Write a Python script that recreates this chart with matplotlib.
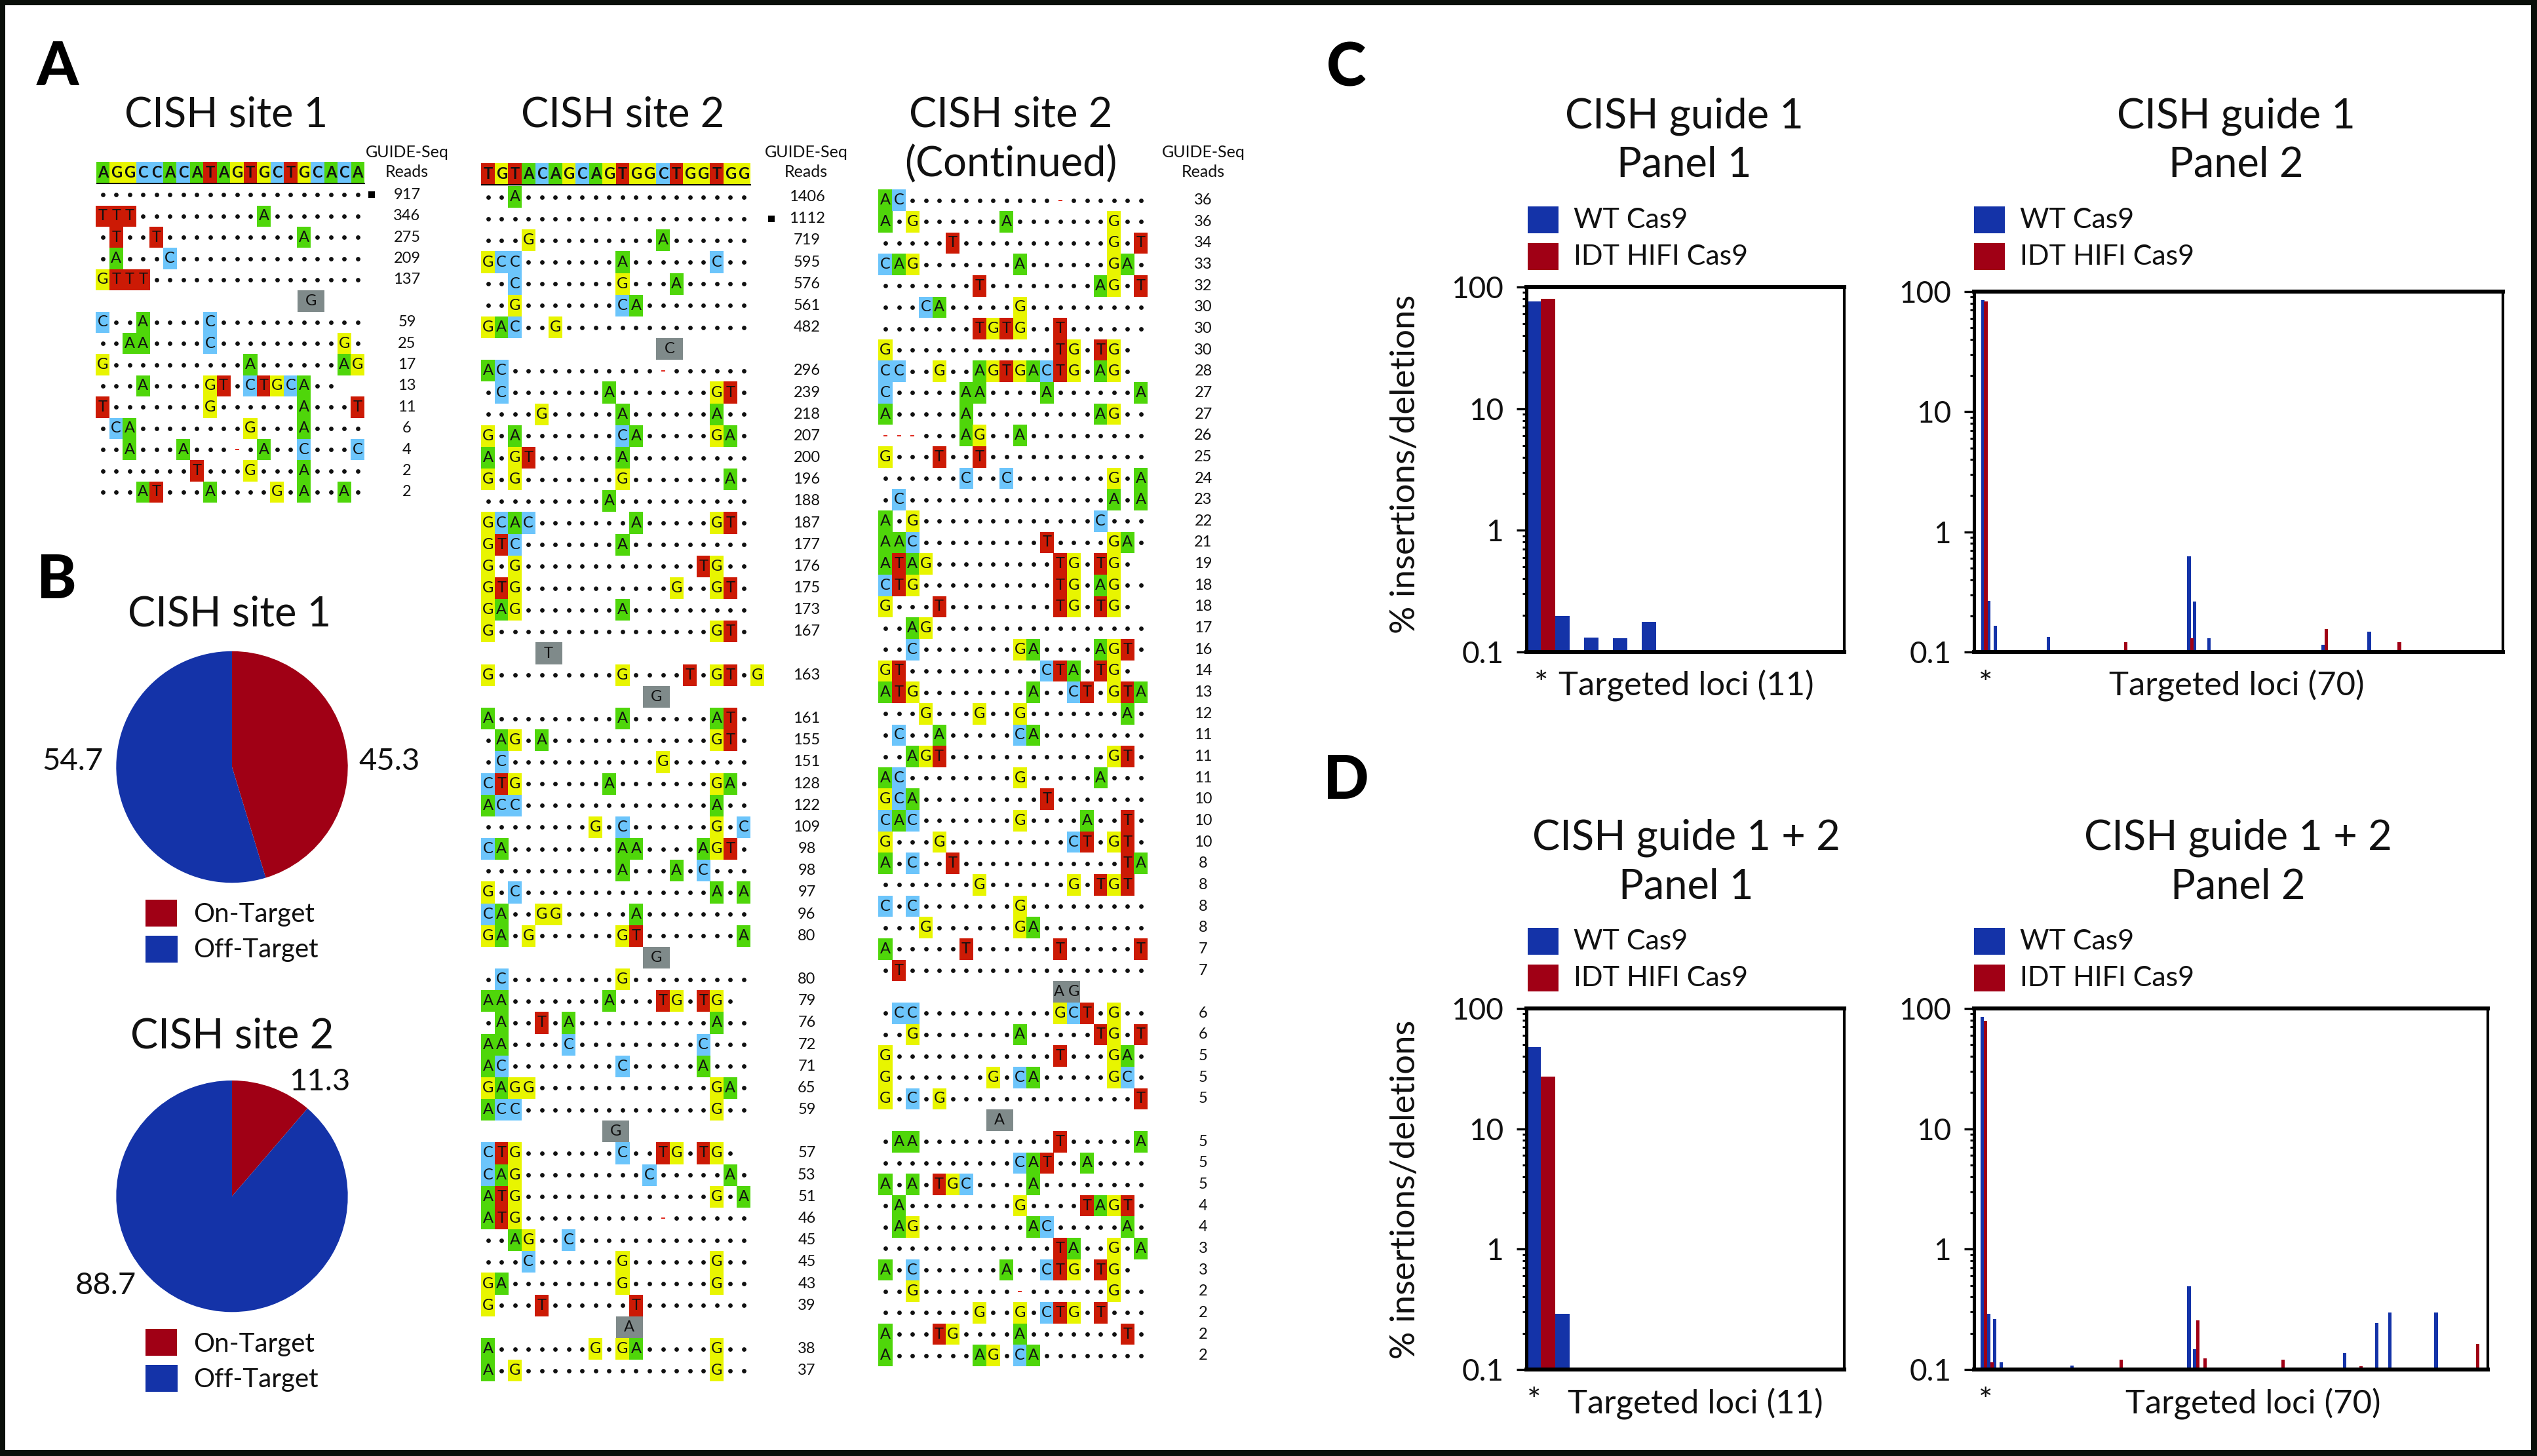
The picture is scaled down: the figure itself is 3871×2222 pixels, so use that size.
import matplotlib
matplotlib.use('Agg')
import matplotlib.pyplot as plt
from matplotlib.patches import Rectangle

W, H = 3871, 2222
FONT = 'Lato'
plt.rcParams['font.family'] = [FONT, 'DejaVu Sans']

# ---------- data ----------
site1_header = "AGGCCACATAGTGCTGCACA"
site1_rows = [
"....................",
"TTT.........A.......",
".T..T..........A....",
".A...C..............",
"GTTT................",
"",
"C..A....C...........",
"..AA....C.........G.",
"G..........A......AG",
"...A....GT.CTGCA..  ",
"T.......G......A...T",
".CA........G...A....",
"..A...A...-.A..C...C",
".......T...G...A....",
"...AT...A....G.A..A.",
]
site1_reads = [917,346,275,209,137,None,59,25,17,13,11,6,4,2,2]
site1_gaps = {5:(15,"G")}

site2_header = "TGTACAGCAGTGGCTGGTGG"
site2_rows = [
"..A.................",
"....................",
"...G.........A......",
"GCC.......A......C..",
"..C.......G...A.....",
"..G.......CA........",
"GAC..G..............",
"",
"AC...........-......",
".C.......A.......GT.",
"....G.....A......A..",
"G.A.......CA.....GA.",
"A.GT......A.........",
"G.G.......G.......A.",
".........A..........",
"GCAC.......A.....GT.",
"GTC.......A.........",
"G.G.............TG..",
"GTG...........G..GT.",
"GAG.......A.........",
"G................GT.",
"",
"G.........G....T.GT.G",
"",
"A.........A......AT.",
".AG.A............GT.",
".C...........G......",
"CTG......A.......GA.",
"ACC..............A..",
"........G.C......G.C",
"CA........AA....AGT.",
"..........A...A.C...",
"G.C..............A.A",
"CA..GG.....A........",
"GA.G......GT.......A",
"",
".C........G.........",
"AA.......A...TG.TG. ",
".A..T.A..........A..",
"AA....C.........C...",
"AC........C.....A...",
"GAGG.............GA.",
"ACC..............G..",
"",
"CTG.......C..TG.TG. ",
"CAG.........C.....A.",
"ATG..............G.A",
"ATG..........-......",
"..AG..C.............",
"...C......G......G..",
"GA........G......G..",
"G...T......T........",
"",
"A.......G.GA.....G..",
"A.G..............G..",
]
site2_reads = [1406,1112,719,595,576,561,482,None,296,239,218,207,200,196,188,187,177,176,175,173,167,None,
               163,None,161,155,151,128,122,109,98,98,97,96,80,None,80,79,76,72,71,65,59,None,
               57,53,51,46,45,45,43,39,None,38,37]
site2_gaps = {7:(13,"C"),21:(4,"T"),23:(12,"G"),35:(12,"G"),43:(9,"G"),52:(10,"A")}

site2c_rows = [
"AC...........-......",
"A.G......A.......G..",
".....T...........G.T",
"CAG.......A......GA.",
".......T........AG.T",
"...CA.....G.........",
".......TGTG..T......",
"G............TG.TG. ",
"CC..G..AGTGACTG.AG. ",
"C.....AA....A......A",
"A.....A.........AG..",
"---...AG..A.........",
"G...T..T............",
"......C..C.......G.A",
".C...............A.A",
"A.G.............C...",
"AAC.........T....GA.",
"ATAG.........TG.TG. ",
"CTG..........TG.AG..",
"G...T........TG.TG. ",
"..AG................",
"..C.......GA....AGT.",
"GT..........CTA.TG. ",
"ATG........A..CT.GTA",
"...G...G..G.......A.",
".C..A.....CA........",
"..AGT............GT.",
"AC........G.....A...",
"GCA.........T.......",
"CAC.......G....A..T.",
"G...G.........CT.GT.",
"A.C..T............TA",
".......G......G.TGT ",
"C.C.......G.........",
"...G......GA........",
"A.....T......T.....T",
".T..................",
"",
".CC..........GCT.G..",
"..G.......A.....TG.T",
"G............T...GA.",
"G.......G.CA.....GC.",
"G.C.G..............T",
"",
".AA..........T.....A",
"..........CAT..A....",
"A.A.TGC....A........",
".A........G....TAGT.",
".AG........AC.....A.",
".............TA..G.A",
"A.C......A..CTG.TG. ",
"..G.......-......G..",
".......G..G.CTG.T...",
"A...TG....A.......T.",
"A......AG.CA........",
]
site2c_reads = [36,36,34,33,32,30,30,30,28,27,27,26,25,24,23,22,21,19,18,18,17,16,14,13,12,11,11,11,10,10,10,
                8,8,8,8,7,7,None,6,6,5,5,5,None,5,5,5,4,4,3,3,2,2,2,2]
site2c_gaps = {37:(13,"A G"),43:(8,"A")}

pie_labels = ["On-Target", "Off-Target"]
pie_site1 = [45.3, 54.7]
pie_site2 = [11.3, 88.7]

series_names = ["WT Cas9", "IDT HIFI Cas9"]
c1_wt = [76, 0.197, 0.132, 0.129, 0.177]
c1_wt_loci = [0, 1, 2, 3, 4]
c1_hifi = [80]
c1_hifi_loci = [0]
d1_wt = [47.6, 0.291]
d1_wt_loci = [0, 1]
d1_hifi = [27]
d1_hifi_loci = [0]

c2_wt_pos = [1.16, 1.94, 2.81, 9.87, 28.46, 29.2, 31.07, 46.2, 52.3]
c2_wt = [85, 0.268, 0.165, 0.133, 0.622, 0.263, 0.131, 0.115, 0.148]
c2_hifi_pos = [1.55, 20.1, 28.85, 46.6, 56.3]
c2_hifi = [83, 0.121, 0.13, 0.156, 0.121]

d2_wt_pos = [1.10, 1.99, 2.79, 3.69, 13.35, 29.28, 30.08, 50.5, 54.88, 56.67, 62.95]
d2_wt = [85, 0.289, 0.262, 0.115, 0.108, 0.489, 0.147, 0.137, 0.245, 0.299, 0.299]
d2_hifi_pos = [1.59, 2.49, 20.02, 30.48, 31.47, 42.13, 52.69, 68.63]
d2_hifi = [79, 0.115, 0.12, 0.255, 0.123, 0.121, 0.106, 0.164]

y_ticks = [0.1, 1, 10, 100]
y_ticklabels = ["0.1", "1", "10", "100"]

# ---------- helpers ----------
RED, BLUE = '#a00015', '#1433a8'
CELL = {'A':'#4fd60a', 'G':'#e8f500', 'C':'#6cc5fb', 'T':'#cc1a05'}
GRAY = '#7f8a8a'

fig = plt.figure(figsize=(W/100, H/100), dpi=100, facecolor='white')

def axpx(l, t, r, b, **kw):
    return fig.add_axes([l/W, 1-b/H, (r-l)/W, (b-t)/H], **kw)

def T(x, y, s, size, ha='center', va='center', **kw):
    return fig.text(x/W, 1-y/H, s, fontsize=size, ha=ha, va=va, color=kw.pop('color', '#111111'), **kw)

def figrect(l, t, r, b, c):
    fig.add_artist(Rectangle((l/W, 1-b/H), (r-l)/W, (b-t)/H, transform=fig.transFigure, fc=c, ec='none'))

def alignment(x0, cw, y0, dy, rows, reads, gaps, header=None, hdr_row=-1.05, read_x=None, marker=None):
    n = len(rows)
    extent = 25
    ax = axpx(x0, y0-2*dy, x0+extent*cw, y0+n*dy)
    ax.set_xlim(0, extent)
    ax.set_ylim(n, -2)
    ax.axis('off')
    ls = 17
    for i, row in enumerate(rows):
        dx, dyy = [], []
        for j, ch in enumerate(row):
            if ch == '.':
                dx.append(j+0.5); dyy.append(i)
            elif ch == '-':
                ax.plot([j+0.5], [i], marker='_', ms=5, mew=1.4, color='#e0281c', clip_on=False)
            elif ch in CELL:
                ax.add_patch(Rectangle((j-0.015, i-0.5), 1.03, 1.0, fc=CELL[ch], ec='none', clip_on=False, zorder=1))
                ax.text(j+0.5, i, ch, fontsize=ls, ha='center', va='center', color='#111111', zorder=3)
        ax.scatter(dx, dyy, s=24, c='#111111', linewidths=0, zorder=3, clip_on=False)
        if reads[i] is not None:
            ax.text(read_x, i, str(reads[i]), fontsize=ls, ha='center', va='center', color='#111111')
    for r, (c, s) in gaps.items():
        ax.add_patch(Rectangle((c, r-0.5), 2, 1.0, fc=GRAY, ec='none', clip_on=False, zorder=1))
        ax.text(c+1, r, s, fontsize=ls, ha='center', va='center', color='#111111', zorder=3)
    if header:
        for j, ch in enumerate(header):
            ax.add_patch(Rectangle((j, hdr_row-0.5), 1.0, 1.0, fc=CELL[ch], ec='none', zorder=1))
            ax.text(j+0.5, hdr_row, ch, fontsize=ls, fontweight='bold', ha='center', va='center', color='#111111', zorder=3)
        ax.plot([0, 20], [hdr_row+0.5]*2, color='black', lw=1.5, zorder=4)
    if marker:
        ax.scatter([marker[0]], [marker[1]], s=50, marker='s', c='black', linewidths=0, clip_on=False)
    return ax

def pie(cx, cy, r, vals):
    ax = axpx(cx-r, cy-r, cx+r, cy+r)
    ax.pie(vals, colors=[RED, BLUE], startangle=90, counterclock=False, radius=1,
           wedgeprops=dict(linewidth=0))
    ax.set_xlim(-1, 1); ax.set_ylim(-1, 1)

def barpanel(l, t, r, b, nloci, wt_x, wt, hifi_x, hifi, width):
    ax = axpx(l, t, r, b)
    ax.set_yscale('log')
    ax.set_xlim(0, nloci)
    ax.set_ylim(0.1, 100)
    ax.bar(wt_x, [v-0.1 for v in wt], bottom=0.1, width=width, color=BLUE, align='center', zorder=2)
    ax.bar(hifi_x, [v-0.1 for v in hifi], bottom=0.1, width=width, color=RED, align='center', zorder=2)
    for s, lw in (('top',4.4),('bottom',4.4),('left',3.6),('right',3.0)):
        ax.spines[s].set_linewidth(lw); ax.spines[s].set_color('black'); ax.spines[s].set_zorder(5)
    ax.set_xticks([])
    ax.set_yticks(y_ticks); ax.set_yticklabels(y_ticklabels)
    ax.tick_params(axis='y', which='major', length=11, width=2.4, labelsize=33, pad=14, labelcolor='#111111')
    ax.tick_params(axis='y', which='minor', length=4, width=2.2, labelleft=False)
    ax.yaxis.set_minor_locator(matplotlib.ticker.LogLocator(base=10, subs=range(2, 10), numticks=10))
    ax.yaxis.set_minor_formatter(matplotlib.ticker.NullFormatter())
    return ax

# ---------- frame ----------
figrect(0, 0, W, 8, '#0a0f0a'); figrect(0, H-9, W, H, '#0a0f0a')
figrect(0, 0, 8, H, '#0a0f0a'); figrect(W-9, 0, W, H, '#0a0f0a')

# ---------- panel letters ----------
for s, x, y in (("A", 88, 104), ("B", 86, 887), ("C", 2054, 105), ("D", 2054, 1193)):
    T(x, y, s, 66, fontweight='black', color='black')

# ---------- panel A ----------
TS = 45.5
T(345, 176, "CISH site 1", TS)
T(950, 176, "CISH site 2", TS)
T(1542, 176, "CISH site 2", TS)
T(1542, 251, "(Continued)", TS)
for x in (621, 1230, 1836):
    T(x, 232, "GUIDE-Seq", 18)
    T(x, 262, "Reads", 18)

alignment(146.6, 20.47, 297.4, 32.4, site1_rows, site1_reads, site1_gaps, site1_header,
          read_x=(621-146.6)/20.47, marker=((567-146.6)/20.47, 0))
alignment(734.4, 20.53, 300.5, 33.17, site2_rows, site2_reads, site2_gaps, site2_header,
          read_x=(1231-734.4)/20.53, marker=((1176.5-734.4)/20.53, 1))
alignment(1340.8, 20.51, 305.6, 32.65, site2c_rows, site2c_reads, site2c_gaps,
          read_x=(1836-1340.8)/20.51)

# ---------- panel B ----------
T(350, 937, "CISH site 1", TS)
T(354, 1582, "CISH site 2", TS)
pie(354, 1170.5, 176.7, pie_site1)
pie(354, 1825.6, 176.7, pie_site2)
PS = 34
T(111, 1162, f"{pie_site1[1]}", PS)
T(594, 1162, f"{pie_site1[0]}", PS)
T(488, 1651, f"{pie_site2[0]}", PS)
T(161, 1962, f"{pie_site2[1]}", PS)
for y1, y2 in ((1373, 1428), (2028, 2083)):
    figrect(222, y1, 270, y1+41, RED)
    figrect(222, y2, 271, y2+41, BLUE)
    T(295.5, y1+23, pie_labels[0], 29, ha='left')
    T(295.5, y2+22, pie_labels[1], 29, ha='left')

# ---------- panels C, D ----------
wbar = 0.46
a = barpanel(2329, 438, 2814, 995, 11, [i+0.25 for i in c1_wt_loci], c1_wt,
             [i+0.75 for i in c1_hifi_loci], c1_hifi, 0.5)
barpanel(3012, 445, 3819, 995, 70, c2_wt_pos, c2_wt, c2_hifi_pos, c2_hifi, wbar)
barpanel(2329, 1539, 2814, 2090, 11, [i+0.25 for i in d1_wt_loci], d1_wt,
         [i+0.75 for i in d1_hifi_loci], d1_hifi, 0.5)
barpanel(3012, 1539, 3796, 2090, 70, d2_wt_pos, d2_wt, d2_hifi_pos, d2_hifi, wbar)

T(2145, 708, "% insertions/deletions", 38, rotation=90)
T(2145, 1815, "% insertions/deletions", 38, rotation=90)

T(2570, 178, "CISH guide 1", TS); T(2570, 252, "Panel 1", TS)
T(3412, 178, "CISH guide 1", TS); T(3412, 252, "Panel 2", TS)
T(2573, 1279, "CISH guide 1 + 2", TS); T(2573, 1353, "Panel 1", TS)
T(3415, 1279, "CISH guide 1 + 2", TS); T(3415, 1353, "Panel 2", TS)

for x, (y1, y2) in ((2331, (315, 371)), (3012, (315, 371)), (2331, (1416, 1472)), (3012, (1416, 1472))):
    figrect(x, y1, x+47, y1+41, BLUE)
    figrect(x, y2, x+47, y2+41, RED)
    T(x+70, y1+21, series_names[0], 31, ha='left')
    T(x+70, y2+21, series_names[1], 31, ha='left')

XS = 36.5
T(2352, 1046, "*", XS); T(2573, 1046, "Targeted loci (11)", XS)
T(3030, 1046, "*", XS); T(3413, 1046, "Targeted loci (70)", XS)
T(2341, 2140, "*", XS); T(2587, 2142, "Targeted loci (11)", XS)
T(3030, 2140, "*", XS); T(3438, 2142, "Targeted loci (70)", XS)

fig.savefig('out.png', dpi=100, facecolor='white')
